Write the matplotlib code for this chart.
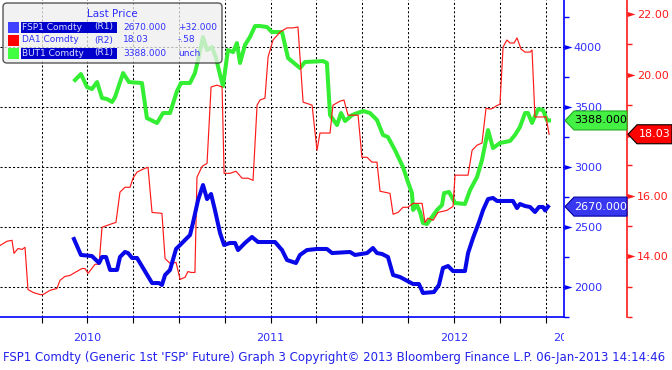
import matplotlib
matplotlib.use('Agg')
import matplotlib.pyplot as plt
from matplotlib.patches import Polygon, Rectangle, FancyBboxPatch
from matplotlib.transforms import Bbox, IdentityTransform, blended_transform_factory

W, H, DPI = 672, 370, 100

# --- data (x in decimal years) ---
fsp1_t = [2010.427, 2010.465, 2010.525, 2010.564, 2010.580, 2010.602, 2010.624, 2010.662, 2010.678, 2010.705,
          2010.722, 2010.744, 2010.771, 2010.853, 2010.891, 2010.907, 2010.924, 2010.951, 2010.984, 2011.006,
          2011.033, 2011.060, 2011.076, 2011.104, 2011.131, 2011.153, 2011.175, 2011.196, 2011.224, 2011.246,
          2011.278, 2011.306, 2011.322, 2011.360, 2011.398, 2011.431, 2011.524, 2011.562, 2011.589, 2011.638,
          2011.660, 2011.698, 2011.753, 2011.807, 2011.835, 2011.933, 2011.960, 2012.026, 2012.058, 2012.080,
          2012.108, 2012.140, 2012.168, 2012.206, 2012.277, 2012.309, 2012.331, 2012.391, 2012.418, 2012.440,
          2012.468, 2012.495, 2012.560, 2012.577, 2012.604, 2012.637, 2012.659, 2012.686, 2012.713, 2012.735,
          2012.822, 2012.844, 2012.860, 2012.888, 2012.915, 2012.942, 2012.964, 2012.986, 2012.997, 2013.013]
fsp1_v = [2400, 2267, 2258, 2200, 2250, 2250, 2142, 2142, 2250, 2292,
          2283, 2242, 2242, 2033, 2033, 2017, 2100, 2142, 2317, 2350,
          2392, 2433, 2533, 2725, 2850, 2733, 2775, 2642, 2450, 2350,
          2367, 2367, 2308, 2367, 2417, 2375, 2375, 2308, 2225, 2200,
          2267, 2308, 2317, 2317, 2283, 2292, 2267, 2283, 2325, 2283,
          2275, 2250, 2100, 2083, 2025, 2025, 1950, 1958, 2017, 2158,
          2175, 2133, 2133, 2283, 2408, 2542, 2642, 2733, 2742, 2717,
          2717, 2658, 2692, 2675, 2667, 2625, 2667, 2667, 2638, 2670]

but1_t = [2010.433, 2010.465, 2010.498, 2010.525, 2010.553, 2010.580, 2010.607, 2010.635, 2010.651, 2010.695,
          2010.727, 2010.798, 2010.825, 2010.880, 2010.913, 2010.951, 2010.989, 2011.011, 2011.060, 2011.087,
          2011.104, 2011.131, 2011.153, 2011.180, 2011.202, 2011.224, 2011.240, 2011.267, 2011.295, 2011.316,
          2011.333, 2011.360, 2011.387, 2011.415, 2011.442, 2011.480, 2011.507, 2011.562, 2011.595, 2011.660,
          2011.687, 2011.786, 2011.807, 2011.824, 2011.862, 2011.884, 2011.906, 2011.944, 2012.004, 2012.042,
          2012.080, 2012.113, 2012.140, 2012.178, 2012.222, 2012.249, 2012.271, 2012.277, 2012.298, 2012.315,
          2012.331, 2012.353, 2012.380, 2012.408, 2012.435, 2012.446, 2012.473, 2012.506, 2012.560, 2012.588,
          2012.626, 2012.653, 2012.686, 2012.713, 2012.751, 2012.806, 2012.833, 2012.860, 2012.888, 2012.904,
          2012.926, 2012.959, 2012.986, 2013.008, 2013.019]
but1_v = [3725, 3775, 3667, 3650, 3708, 3575, 3567, 3542, 3583, 3783,
          3708, 3700, 3408, 3367, 3450, 3450, 3633, 3700, 3700, 3783,
          3892, 4083, 3975, 4000, 3908, 3767, 3675, 3975, 3958, 4033,
          3867, 4017, 4083, 4175, 4175, 4167, 4125, 4125, 3908, 3825,
          3875, 3883, 3867, 3433, 3350, 3450, 3383, 3433, 3467, 3450,
          3392, 3267, 3250, 3142, 3000, 2875, 2783, 2642, 2683, 2625,
          2533, 2525, 2583, 2642, 2683, 2783, 2792, 2700, 2692, 2808,
          2917, 3058, 3308, 3158, 3200, 3217, 3267, 3333, 3450, 3450,
          3367, 3483, 3475, 3388, 3388]

da1_t = [2010.024, 2010.062, 2010.089, 2010.100, 2010.122, 2010.144, 2010.160, 2010.176, 2010.204, 2010.242,
         2010.258, 2010.296, 2010.334, 2010.351, 2010.378, 2010.405, 2010.433, 2010.471, 2010.487, 2010.504,
         2010.542, 2010.564, 2010.580, 2010.607, 2010.640, 2010.656, 2010.678, 2010.705, 2010.733, 2010.749,
         2010.771, 2010.804, 2010.831, 2010.853, 2010.907, 2010.924, 2010.951, 2010.984, 2011.006, 2011.033,
         2011.049, 2011.066, 2011.087, 2011.098, 2011.126, 2011.153, 2011.175, 2011.207, 2011.235, 2011.246,
         2011.278, 2011.311, 2011.344, 2011.376, 2011.404, 2011.426, 2011.442, 2011.469, 2011.486, 2011.513,
         2011.551, 2011.589, 2011.622, 2011.649, 2011.677, 2011.726, 2011.753, 2011.769, 2011.824, 2011.840,
         2011.878, 2011.900, 2011.922, 2011.977, 2011.998, 2012.026, 2012.053, 2012.080, 2012.097, 2012.151,
         2012.168, 2012.195, 2012.222, 2012.249, 2012.277, 2012.326, 2012.342, 2012.358, 2012.386, 2012.413,
         2012.462, 2012.495, 2012.506, 2012.577, 2012.599, 2012.626, 2012.653, 2012.675, 2012.697, 2012.713,
         2012.729, 2012.751, 2012.768, 2012.789, 2012.806, 2012.828, 2012.844, 2012.866, 2012.888, 2012.915,
         2012.926, 2012.942, 2012.964, 2012.986, 2013.002, 2013.019]
da1_v = [14.36, 14.50, 14.53, 14.10, 14.26, 14.23, 14.30, 12.91, 12.81, 12.74,
         12.74, 12.88, 12.94, 13.21, 13.34, 13.37, 13.47, 13.60, 13.60, 13.44,
         13.74, 13.74, 14.96, 15.02, 15.09, 15.12, 16.12, 16.28, 16.28, 16.58,
         16.78, 16.88, 16.94, 15.45, 15.42, 13.93, 13.77, 13.80, 13.24, 13.31,
         13.50, 13.47, 13.47, 16.61, 16.97, 17.07, 19.59, 19.65, 19.59, 16.74,
         16.74, 16.81, 16.58, 16.58, 16.51, 18.99, 19.16, 19.22, 20.58, 21.14,
         21.40, 21.54, 21.54, 21.57, 19.09, 18.99, 17.50, 18.07, 18.07, 18.99,
         19.12, 19.16, 18.66, 18.66, 17.27, 17.27, 17.11, 17.11, 16.15, 16.08,
         15.39, 15.45, 15.62, 15.62, 15.75, 15.75, 15.12, 15.26, 15.19, 15.45,
         15.52, 15.65, 16.68, 16.68, 17.50, 17.67, 17.74, 18.89, 18.86, 18.89,
         18.96, 19.02, 20.91, 21.14, 21.04, 21.04, 21.21, 20.84, 20.74, 20.74,
         20.81, 18.60, 18.60, 18.60, 18.61, 18.03]

quarters = [2010.25, 2010.5, 2010.75, 2011.0, 2011.25, 2011.5, 2011.75,
            2012.0, 2012.25, 2012.5, 2012.75, 2013.0]
year_labels = ['2010', '2011', '2012', '2013']
year_pos = [2010.5, 2011.5, 2012.5, 2013.04]
r1_ticks = [2000, 2500, 3000, 3500, 4000]
r1_minor = [1750, 2250, 2750, 3250, 3750, 4250]
r2_ticks = [14, 16, 18, 20, 22]
r2_minor = [12, 13, 15, 17, 19, 21]

legend_names = ['FSP1 Comdty', 'DA1 Comdty', 'BUT1 Comdty']
legend_axis = ['(R1)', '(R2)', '(R1)']
legend_last = ['2670.000', '18.03', '3388.000']
legend_change = ['+32.000', '-.58', 'unch']
footer = "FSP1 Comdty (Generic 1st 'FSP' Future) Graph 3 Copyright\u00a9 2013 Bloomberg Finance L.P. 06-Jan-2013 14:14:46"

BLUE = '#0808e8'
GREEN = '#33ee33'
RED = '#ff1a1a'
AXBLUE = '#0000ff'
TXTBLUE = '#3030ff'
ID = IdentityTransform()

fig = plt.figure(figsize=(W / DPI, H / DPI), dpi=DPI)
fig.patch.set_facecolor('white')

# main axes (R1)
ax = fig.add_axes([0, 1 - 317 / H, 564 / W, 317 / H])
ax.set_xlim(2010.0235, 2013.1004)
ax.set_ylim(1750, 4392)
ax.plot(but1_t, but1_v, color=GREEN, lw=2.9, solid_joinstyle='round')

# red axis (R2)
tw = ax.twinx()
tw.set_ylim(12, 22.46)
for s in ['left', 'top', 'bottom']:
    tw.spines[s].set_visible(False)
rpos = 627 / 564
tw.spines['right'].set_position(('axes', rpos))
tw.spines['right'].set_color(RED)
tw.spines['right'].set_linewidth(1.2)
tw.set_yticks(r2_ticks)
# the 18 label sits under the last-value tag, as in the original
tw.set_yticklabels(['' if v == 18 else f'{v:.2f}' for v in r2_ticks])
tw.set_yticks(r2_minor, minor=True)
tw.tick_params(axis='y', which='major', length=0, pad=7, labelsize=8, labelcolor=RED)
tw.tick_params(axis='y', which='minor', length=3.5, width=1, color=RED, direction='out')
tri = [(0, -2.5), (8, 0), (0, 2.5)]
tw.plot([rpos] * len(r2_ticks), r2_ticks, ls='none', marker=tri, ms=11.5, color=RED, mew=0,
        transform=tw.get_yaxis_transform(), clip_on=False)
tw.plot(da1_t, da1_v, color=RED, lw=0.85)

# R1 axis styling (after twinx, which moves ticks left)
for s in ['left', 'top']:
    ax.spines[s].set_visible(False)
for s in ['right', 'bottom']:
    ax.spines[s].set_color(AXBLUE)
    ax.spines[s].set_linewidth(1.2)
ax.yaxis.tick_right()
ax.yaxis.set_label_position('right')
ax.set_yticks(r1_ticks)
ax.set_yticks(r1_minor, minor=True)
ax.tick_params(axis='y', which='major', left=False, right=True, labelleft=False, labelright=True,
               length=0, pad=7, labelsize=8, labelcolor=TXTBLUE)
ax.tick_params(axis='y', which='minor', left=False, right=True, length=3.5, width=1,
               color=AXBLUE, direction='out')
ax.set_xticks(quarters)
ax.set_xticklabels([])
ax.tick_params(axis='x', which='major', length=4, width=0.8, color='black')
ax.grid(True, color='black', ls=(0, (2, 2)), lw=0.75)
ax.plot([1] * len(r1_ticks), r1_ticks, ls='none', marker=tri, ms=11.5, color=AXBLUE, mew=0,
        transform=ax.get_yaxis_transform(), clip_on=False)

# blue line on top
top = fig.add_axes(ax.get_position())
top.set_xlim(ax.get_xlim())
top.set_ylim(ax.get_ylim())
top.axis('off')
top.plot(fsp1_t, fsp1_v, color=BLUE, lw=2.9, solid_joinstyle='round')

# year labels
ytr = blended_transform_factory(ax.transData, ID)
for lab, pos in zip(year_labels, year_pos):
    last = lab == year_labels[-1]
    t = ax.text(pos, H - 338, lab, transform=ytr, ha='left' if last else 'center', va='center',
                fontsize=8, color=TXTBLUE, clip_on=False)
    if last:
        t.set_clip_box(Bbox.from_extents(0, 0, 564, H))
        t.set_clip_on(True)

# last value tags
def tag(x0, x1, y, fc, ec, tc, txt):
    yd = H - y
    poly = Polygon([(x0, yd), (x0 + 9, yd + 9.5), (x1, yd + 9.5), (x1, yd - 9.5), (x0 + 9, yd - 9.5)],
                   closed=True, transform=ID, fc=fc, ec=ec, lw=0.8)
    fig.add_artist(poly)
    fig.text((x0 + 9 + x1) / 2, yd, txt, transform=ID, ha='center', va='center', fontsize=8, color=tc)

yb = H - ax.transData.transform((2011, fsp1_v[-1]))[1]
yg = H - ax.transData.transform((2011, but1_v[-1]))[1]
yr = H - tw.transData.transform((2011, da1_v[-1]))[1]
tag(565, 627, yg, '#44f044', '#22aa22', 'black', f'{but1_v[-1]:.3f}')
tag(565, 627, yb, '#3838f0', '#0000a0', 'white', f'{fsp1_v[-1]:.3f}')
tag(628, 672, yr, '#ff0000', 'black', 'white', f'{da1_v[-1]:.2f}')

# legend box
box = FancyBboxPatch((3, H - 63), 219, 60, boxstyle='round,pad=0,rounding_size=4', transform=ID,
                     fc='#eeeeee', ec='#202020', lw=1, alpha=0.75)
fig.add_artist(box)
fig.text(87, H - 14, 'Last Price', transform=ID, ha='left', va='center', fontsize=7.5, color=TXTBLUE)
row_y = [27, 40, 53]
sq_cols = ['#4040ff', '#ff0000', '#40ff40']
for i in range(3):
    yd = H - row_y[i]
    fig.add_artist(Rectangle((8, yd - 5.5), 11, 11, transform=ID, fc=sq_cols[i], ec='none'))
    hl = legend_axis[i] == '(R1)'
    if hl:
        fig.add_artist(Rectangle((21, yd - 5.5), 96, 11, transform=ID, fc='#0000cc', ec='none'))
    nc = '#dcdcff' if hl else TXTBLUE
    fig.text(22, yd, legend_names[i], transform=ID, ha='left', va='center', fontsize=6.5, color=nc)
    fig.text(94, yd, legend_axis[i], transform=ID, ha='left', va='center', fontsize=6.5, color=nc)
    fig.text(123, yd, legend_last[i], transform=ID, ha='left', va='center', fontsize=6.5, color=TXTBLUE)
    fig.text(178, yd, legend_change[i], transform=ID, ha='left', va='center', fontsize=6.5, color=TXTBLUE)

fig.text(3, H - 358, footer, transform=ID, ha='left', va='center', fontsize=8.5, color='#2222ee')

fig.savefig('out.png', dpi=DPI)
